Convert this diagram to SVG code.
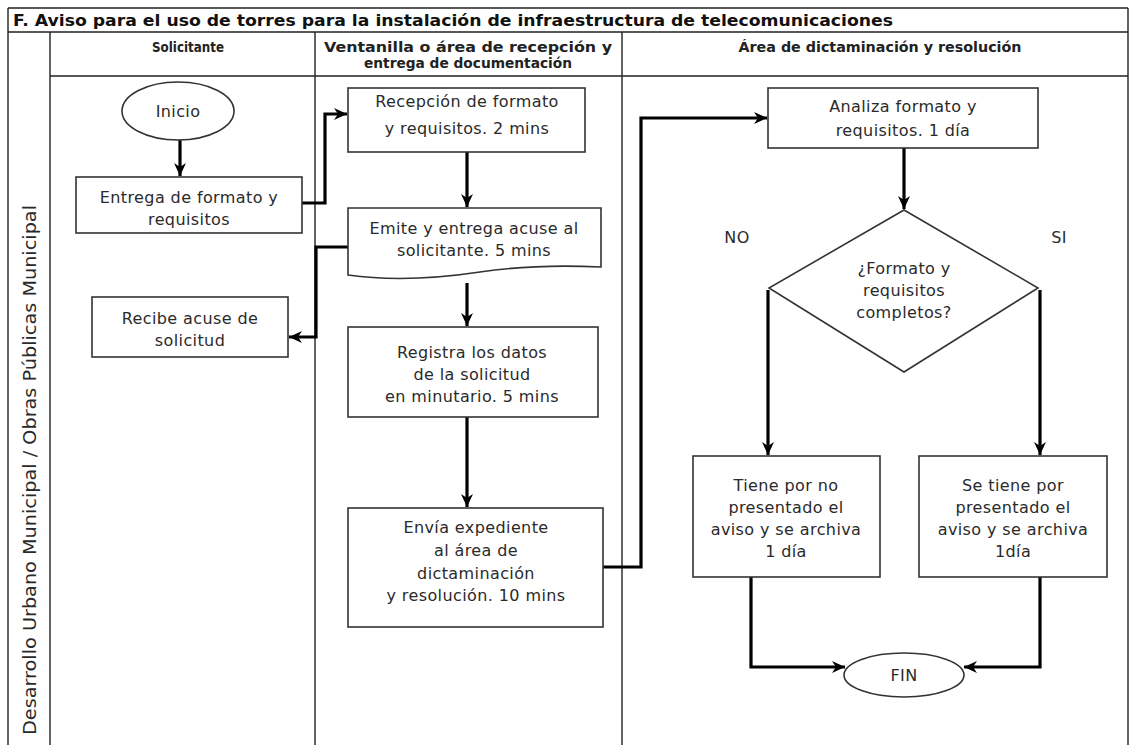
<svg xmlns="http://www.w3.org/2000/svg" width="1133" height="745" viewBox="0 0 1133 745">
<defs>
<marker id="arr" markerUnits="userSpaceOnUse" markerWidth="14" markerHeight="14" viewBox="0 0 14 14" refX="13" refY="7" orient="auto">
<path d="M0,1 L13,7 L0,13 L4,7 Z" fill="#000"/>
</marker>
<style>
.grid{stroke:#222;stroke-width:1.4;fill:none}
.box{fill:#fff;stroke:#333;stroke-width:1.6}
.t{font-family:"DejaVu Sans","Liberation Sans",sans-serif;font-size:16px;letter-spacing:0.4px;fill:#2a2a2a;text-anchor:middle}
.h{font-family:"DejaVu Sans","Liberation Sans",sans-serif;font-size:13.5px;font-weight:bold;fill:#222;text-anchor:middle}
.ttl{font-family:"DejaVu Sans","Liberation Sans",sans-serif;font-size:16px;font-weight:bold;fill:#111}
.v{font-family:"DejaVu Sans","Liberation Sans",sans-serif;font-size:17px;fill:#2a2a2a;text-anchor:middle}
.c{fill:none;stroke:#000;stroke-width:3.2;marker-end:url(#arr)}
</style>
</defs>
<rect width="1133" height="745" fill="#fff"/>
<g id="table">
<path class="grid" d="M8,8 H1128 M8,32 H1128 M50,76 H1128 M8,8 V745 M50,32 V745 M315,32 V745 M622,32 V745 M1128,8 V745"/>
<text class="ttl" x="13" y="26" textLength="880" lengthAdjust="spacingAndGlyphs">F. Aviso para el uso de torres para la instalación de infraestructura de telecomunicaciones</text>
<text class="h" x="188" y="52" textLength="72" lengthAdjust="spacingAndGlyphs">Solicitante</text>
<text class="h" x="468" y="52" textLength="288" lengthAdjust="spacingAndGlyphs">Ventanilla o área de recepción y</text>
<text class="h" x="468" y="68" textLength="208" lengthAdjust="spacingAndGlyphs">entrega de documentación</text>
<text class="h" x="880" y="52" textLength="283" lengthAdjust="spacingAndGlyphs">Área de dictaminación y resolución</text>
<text class="v" transform="translate(36,470) rotate(-90)" x="0" y="0" textLength="530" lengthAdjust="spacingAndGlyphs">Desarrollo Urbano Municipal / Obras Públicas Municipal</text>
</g>
<g id="connectors">
<path class="c" d="M180,140 V176"/>
<path class="c" d="M302,203 H325 V114 H347"/>
<path class="c" d="M467,152 V207"/>
<path class="c" d="M348,247 H316 V337 H289"/>
<path class="c" d="M467,283 V326"/>
<path class="c" d="M467,417 V507"/>
<path class="c" d="M603,567 H641 V118 H767"/>
<path class="c" d="M904,148 V209"/>
<path class="c" d="M768,290 V455"/>
<path class="c" d="M1040,290 V455"/>
<path class="c" d="M751,577 V667 H845"/>
<path class="c" d="M1040,577 V667 H964"/>
</g>
<g id="inicio">
<ellipse class="box" cx="178" cy="111" rx="56" ry="29"/>
<text class="t" x="178" y="117">Inicio</text>
</g>
<g id="entrega">
<rect class="box" x="76" y="177" width="226" height="56"/>
<text class="t" x="189" y="203">Entrega de formato y</text>
<text class="t" x="189" y="225">requisitos</text>
</g>
<g id="recibe">
<rect class="box" x="92" y="297" width="196" height="60"/>
<text class="t" x="190" y="324">Recibe acuse de</text>
<text class="t" x="190" y="346">solicitud</text>
</g>
<g id="recepcion">
<rect class="box" x="348" y="88" width="237" height="64"/>
<text class="t" x="467" y="107">Recepción de formato</text>
<text class="t" x="467" y="134">y requisitos. 2 mins</text>
</g>
<g id="emite">
<path class="box" d="M348,208 H601 V267 C560,265 520,266 480,272 C440,278 390,281 348,275 Z"/>
<text class="t" x="474" y="234">Emite y entrega acuse al</text>
<text class="t" x="474" y="256">solicitante. 5 mins</text>
</g>
<g id="registra">
<rect class="box" x="348" y="327" width="250" height="90"/>
<text class="t" x="472" y="358">Registra los datos</text>
<text class="t" x="472" y="380">de la solicitud</text>
<text class="t" x="472" y="402">en minutario. 5 mins</text>
</g>
<g id="envia">
<rect class="box" x="348" y="508" width="255" height="119"/>
<text class="t" x="476" y="533">Envía expediente</text>
<text class="t" x="476" y="556">al área de</text>
<text class="t" x="476" y="579">dictaminación</text>
<text class="t" x="476" y="601">y resolución. 10 mins</text>
</g>
<g id="analiza">
<rect class="box" x="768" y="88" width="270" height="60"/>
<text class="t" x="903" y="112">Analiza formato y</text>
<text class="t" x="903" y="136">requisitos. 1 día</text>
</g>
<g id="decision">
<polygon class="box" points="904,210 1038,288 904,372 769,288"/>
<text class="t" x="904" y="274">¿Formato y</text>
<text class="t" x="904" y="296">requisitos</text>
<text class="t" x="904" y="318">completos?</text>
<text class="t" x="737" y="243">NO</text>
<text class="t" x="1059" y="243">SI</text>
</g>
<g id="no-presentado">
<rect class="box" x="693" y="456" width="187" height="121"/>
<text class="t" x="786" y="491">Tiene por no</text>
<text class="t" x="786" y="513">presentado el</text>
<text class="t" x="786" y="535">aviso y se archiva</text>
<text class="t" x="786" y="557">1 día</text>
</g>
<g id="presentado">
<rect class="box" x="919" y="456" width="188" height="121"/>
<text class="t" x="1013" y="491">Se tiene por</text>
<text class="t" x="1013" y="513">presentado el</text>
<text class="t" x="1013" y="535">aviso y se archiva</text>
<text class="t" x="1013" y="557">1día</text>
</g>
<g id="fin">
<ellipse class="box" cx="904" cy="675" rx="60" ry="22"/>
<text class="t" x="904" y="681">FIN</text>
</g>
</svg>
